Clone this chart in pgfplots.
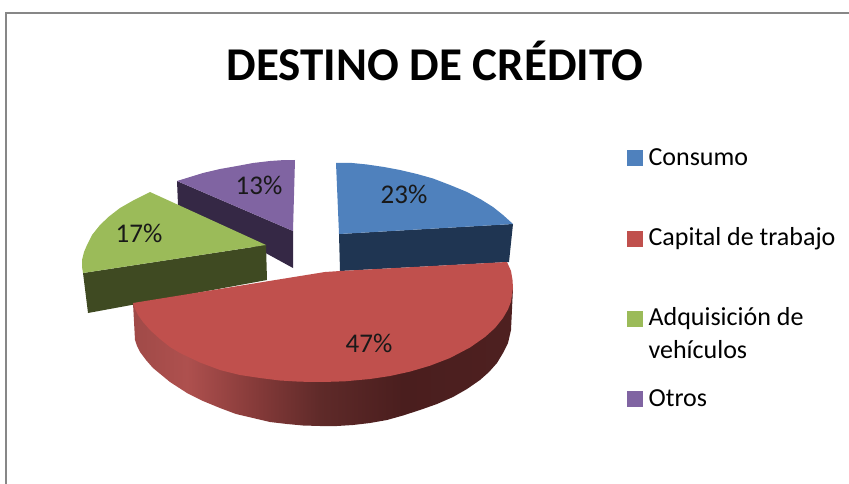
\documentclass[border=0pt]{standalone}
\usepackage{fontspec}
\setmainfont{Carlito}
\usepackage{pgfplots}
\pgfplotsset{compat=1.18}
\definecolor{cBlue}{HTML}{4F81BD}
\definecolor{cBlueS}{HTML}{1F3552}
\definecolor{cRed}{HTML}{C0504D}
\definecolor{cGreen}{HTML}{9BBB59}
\definecolor{cGreenS}{HTML}{3F4A22}
\definecolor{cPurple}{HTML}{8064A2}
\definecolor{cPurpleS}{HTML}{352845}
\definecolor{rA}{HTML}{A04A48}
\definecolor{rB}{HTML}{AE504E}
\definecolor{rC}{HTML}{873B3A}
\definecolor{rD}{HTML}{5F2A29}
\definecolor{rE}{HTML}{4A1E1E}
\definecolor{rF}{HTML}{4E2020}
\pgfdeclarehorizontalshading{redside}{100bp}{color(0bp)=(rA); color(25bp)=(rA); color(32.1bp)=(rB); color(40.8bp)=(rC); color(49.6bp)=(rD); color(60.5bp)=(rE); color(75bp)=(rF); color(100bp)=(rF)}
\newcommand{\legtxt}[1]{\smash{\raisebox{-8pt}{#1}}}
\begin{document}
\begin{tikzpicture}
\begin{axis}[
  scale only axis, width=849pt, height=484pt,
  xmin=0, xmax=849, ymin=0, ymax=484, y dir=reverse,
  hide axis,
  legend style={at={(axis cs:627,150)}, anchor=north west, draw=none, fill=none,
    font=\fontsize{26}{33}\selectfont, row sep=65pt, column sep=6pt,
    nodes={inner sep=0pt, anchor=west}, inner sep=0pt},
  legend cell align=left,
  legend image code/.code={\fill[#1] (0pt,-7.5pt) rectangle (15pt,7.5pt);},
]
% page extent
\path (axis cs:0,0) rectangle (axis cs:849,484);
% frame
\addplot[forget plot, draw=black!47, line width=2pt] coordinates {(6,484) (6,13) (849,13)};
% Otros
\addplot[forget plot, draw=none, fill=cPurpleS] coordinates {(177,181) (293,231) (293,268) (178,205)} -- cycle;
\addplot[forget plot, draw=none, fill=cPurple] coordinates {(295,160) (282,160.2) (270,161) (253,163) (237,166) (220,169) (203,173) (190,177) (177,181) (293,231)} -- cycle;
% Adquisicion
\addplot[forget plot, draw=none, fill=cGreenS] coordinates {(83,273) (266,245) (267,280) (88,313)} -- cycle;
\addplot[forget plot, draw=none, fill=cGreen] coordinates {(150,192) (134,200) (120,208) (109,216.5) (100,225) (92,235) (87,245) (84,252) (82,260) (82,267) (83,273) (266,245)} -- cycle;
% Consumo
\addplot[forget plot, draw=none, fill=cBlueS] coordinates {(339,234) (513,224) (509,262) (340,271)} -- cycle;
\addplot[forget plot, draw=none, fill=cBlue] coordinates {(336,163) (352,163) (367,164.5) (384,167) (400,170) (417,174) (433,178.5) (450,185) (467,192) (481,199.5) (493,207) (503,215) (513,224) (339,234)} -- cycle;
% Capital side
\addplot[forget plot, draw=none, shade, shading=redside] coordinates {(133,303) (135,340) (137,346) (140,352) (146,360) (153,368) (170,382) (187,393) (203,401) (220,408) (236,414) (253,418) (270,422) (287,424) (303,425.5) (320,426) (337,426) (353,425) (370,423) (387,420) (403,415.5) (420,410) (437,404) (453,397) (467,389) (480,380) (489,372) (497,363) (503,353) (508,343) (511,330) (513,288) (323,330)} -- cycle;
% Capital top
\addplot[forget plot, draw=none, fill=cRed] coordinates {(133,303) (135,309) (138,315) (143,322) (150,330) (160,339) (170,347) (180,353) (200,362.5) (220,370) (240,375) (260,378) (280,380.5) (300,381.7) (323,382) (345,381.3) (370,379) (390,376) (410,371.6) (430,365.7) (450,358) (470,347.5) (485,337) (495,328) (503,318) (508,309.4) (511,301.6) (513,288) (512.5,280) (511,271) (507,262) (340,271) (325,272)} -- cycle;
% labels
\node[font=\fontsize{27}{30}\selectfont, text=black!90] at (axis cs:404,194) {23\%};
\node[font=\fontsize{27}{30}\selectfont, text=black!90] at (axis cs:369,343) {47\%};
\node[font=\fontsize{27}{30}\selectfont, text=black!90] at (axis cs:139,233) {17\%};
\node[font=\fontsize{27}{30}\selectfont, text=black!90] at (axis cs:259,185) {13\%};
\node[font=\bfseries\fontsize{47}{50}\selectfont] at (axis cs:435,61) {DESTINO DE CRÉDITO};
% legend
\addlegendimage{cBlue} \addlegendentry{\legtxt{Consumo}}
\addlegendimage{cRed} \addlegendentry{\legtxt{Capital de trabajo}}
\addlegendimage{cGreen} \addlegendentry{\legtxt{\begin{tabular}[t]{@{}l@{}}Adquisición de\\vehículos\end{tabular}}}
\addlegendimage{cPurple} \addlegendentry{\legtxt{Otros}}
\end{axis}
\end{tikzpicture}
\end{document}
